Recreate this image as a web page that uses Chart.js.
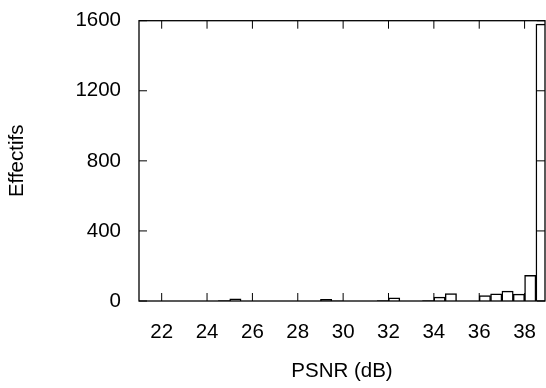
<!DOCTYPE html>
<html>
<head>
<meta charset="utf-8">
<script src="https://cdn.jsdelivr.net/npm/chart.js@4.4.0/dist/chart.umd.min.js"></script>
<style>
  html, body { margin: 0; padding: 0; background: #fff; }
  #wrap { width: 546px; height: 388px; }
</style>
</head>
<body>
<div id="wrap"><canvas id="histo"></canvas></div>
<script>
// histogram bins, 0.5 dB wide (bin centres)
const binCenters = [
  21.25, 21.75, 22.25, 22.75, 23.25, 23.75, 24.25, 24.75, 25.25, 25.75,
  26.25, 26.75, 27.25, 27.75, 28.25, 28.75, 29.25, 29.75, 30.25, 30.75,
  31.25, 31.75, 32.25, 32.75, 33.25, 33.75, 34.25, 34.75, 35.25, 35.75,
  36.25, 36.75, 37.25, 37.75, 38.25, 38.75
];
const counts = [
  0, 0, 0, 0, 0, 0, 0, 2, 12, 0,
  0, 0, 0, 0, 0, 0, 10, 1, 0, 0,
  0, 2, 18, 0, 0, 2, 22, 42, 0, 0,
  31, 41, 56, 39, 147, 1581
];
const xTicks = [22, 24, 26, 28, 30, 32, 34, 36, 38];
const yTicks = [0, 400, 800, 1200, 1600];

const FONT = { family: "'Liberation Sans', Arial, sans-serif", size: 20.5 };

// gnuplot-like frame: box around the plot with inward ticks on all sides
const frame = {
  id: "frame",
  afterDraw(chart) {
    const { ctx, chartArea: a, scales } = chart;
    const len = 8;
    ctx.save();
    ctx.strokeStyle = "#000";
    ctx.lineWidth = 1.3;
    ctx.strokeRect(a.left, a.top, a.right - a.left, a.bottom - a.top);
    ctx.beginPath();
    xTicks.forEach(v => {
      const px = scales.x.getPixelForValue(v);
      ctx.moveTo(px, a.bottom); ctx.lineTo(px, a.bottom - len);
      ctx.moveTo(px, a.top); ctx.lineTo(px, a.top + len);
    });
    yTicks.forEach(v => {
      const py = scales.y.getPixelForValue(v);
      ctx.moveTo(a.left, py); ctx.lineTo(a.left + len, py);
      ctx.moveTo(a.right, py); ctx.lineTo(a.right - len, py);
    });
    ctx.lineWidth = 1;
    ctx.stroke();
    ctx.restore();
  }
};

new Chart(document.getElementById("histo"), {
  type: "bar",
  data: {
    datasets: [{
      data: binCenters.map((c, i) => ({ x: c, y: counts[i] })),
      backgroundColor: "rgba(255,255,255,0)",
      borderColor: "#000",
      borderWidth: 0.8,
      barPercentage: 1,
      categoryPercentage: 1
    }]
  },
  options: {
    responsive: true,
    maintainAspectRatio: false,
    animation: false,
    layout: { padding: { top: 20.7, right: 1, left: 0, bottom: 0 } },
    plugins: { legend: { display: false }, tooltip: { enabled: false } },
    scales: {
      x: {
        type: "linear",
        min: 21,
        max: 38.9,
        offset: false,
        grid: { display: false, drawTicks: false },
        border: { display: false },
        afterBuildTicks: s => { s.ticks = xTicks.map(v => ({ value: v })); },
        afterFit: s => { s.height = 87; s.paddingLeft = 0; s.paddingRight = 0; },
        ticks: { color: "#000", font: FONT, padding: 19, maxRotation: 0, autoSkip: false,
                 callback: v => String(v) },
        title: { display: true, text: "PSNR (dB)", color: "#000", font: FONT, padding: { top: 0, bottom: 4 } }
      },
      y: {
        min: 0,
        max: 1600,
        grid: { display: false, drawTicks: false },
        border: { display: false },
        afterBuildTicks: s => { s.ticks = yTicks.map(v => ({ value: v })); },
        afterFit: s => { s.width = 139; s.paddingTop = 0; s.paddingBottom = 0; },
        ticks: { color: "#000", font: FONT, padding: 18, callback: v => String(v) },
        title: { display: true, text: "Effectifs", color: "#000", font: FONT, padding: { top: 5, bottom: 0 } }
      }
    }
  },
  plugins: [frame]
});
</script>
</body>
</html>
